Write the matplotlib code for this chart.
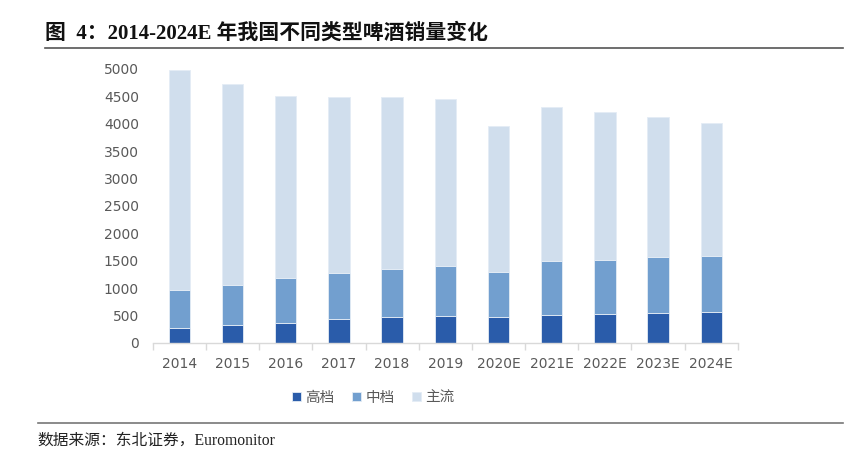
import matplotlib
matplotlib.use("Agg")
import matplotlib.pyplot as plt
import numpy as np
from matplotlib.lines import Line2D

plt.rcParams['font.family'] = ['DejaVu Sans', 'Noto Sans CJK SC']

categories = ['2014', '2015', '2016', '2017', '2018', '2019', '2020E', '2021E', '2022E', '2023E', '2024E']
high = [274, 328, 371, 432, 480, 492, 468, 517, 535, 553, 565]
mid_top = [973, 1058, 1192, 1283, 1356, 1398, 1295, 1490, 1520, 1563, 1593]
total = [4973, 4730, 4511, 4481, 4481, 4450, 3958, 4299, 4213, 4122, 4019]
mid = [m - h for m, h in zip(mid_top, high)]
main = [t - m for t, m in zip(total, mid_top)]
series_names = ['高档', '中档', '主流']
colors = ['#2a5caa', '#729fcf', '#d0deed']

fig = plt.figure(figsize=(8.58, 4.53), dpi=100)
ax = fig.add_axes([0.178, 0.243, 0.682, 0.605])
x = np.arange(len(categories))
w = 0.4
ax.bar(x, high, w, color=colors[0], label=series_names[0], edgecolor='#e4ecf5', linewidth=0.6)
ax.bar(x, mid, w, bottom=high, color=colors[1], label=series_names[1], edgecolor='#e4ecf5', linewidth=0.6)
ax.bar(x, main, w, bottom=mid_top, color=colors[2], label=series_names[2], edgecolor='#e4ecf5', linewidth=0.6)

ax.set_xlim(-0.5, len(categories) - 0.5)
ax.set_ylim(0, 5000)
ax.set_yticks(np.arange(0, 5001, 500))
ax.tick_params(axis='y', length=0, labelsize=10, labelcolor='#595959', pad=10)
ax.set_xticks(x)
ax.set_xticklabels(categories)
ax.tick_params(axis='x', length=0, labelsize=10, labelcolor='#595959', pad=10)
ax.set_xticks(np.arange(-0.5, len(categories), 1), minor=True)
ax.tick_params(axis='x', which='minor', length=5, color='#d9d9d9', width=1)
for s in ['top', 'right', 'left']:
    ax.spines[s].set_visible(False)
ax.spines['bottom'].set_color('#d9d9d9')
ax.spines['bottom'].set_linewidth(1)

leg = fig.legend(loc='center', bbox_to_anchor=(0.435, 0.123), ncol=3, frameon=False,
                 fontsize=10.5, handlelength=0.6, handleheight=0.6, handletextpad=0.3,
                 columnspacing=1.2)
for t in leg.get_texts():
    t.set_color('#595959')

fig.text(0.052, 0.925, '图  4：2014-2024E 年我国不同类型啤酒销量变化',
         family=['Liberation Serif', 'Noto Sans CJK SC'], fontweight='bold',
         fontsize=15, va='center', ha='left', color='#111111')
fig.add_artist(Line2D([0.052, 0.982], [0.893, 0.893], color='#555555', lw=1.2))
fig.add_artist(Line2D([0.044, 0.982], [0.066, 0.066], color='#777777', lw=1.2))
fig.text(0.044, 0.027, '数据来源：东北证券，Euromonitor',
         family=['Liberation Serif', 'Noto Sans CJK SC'], fontsize=11.3,
         va='center', ha='left', color='#222222')

fig.savefig('out.png', dpi=100)
